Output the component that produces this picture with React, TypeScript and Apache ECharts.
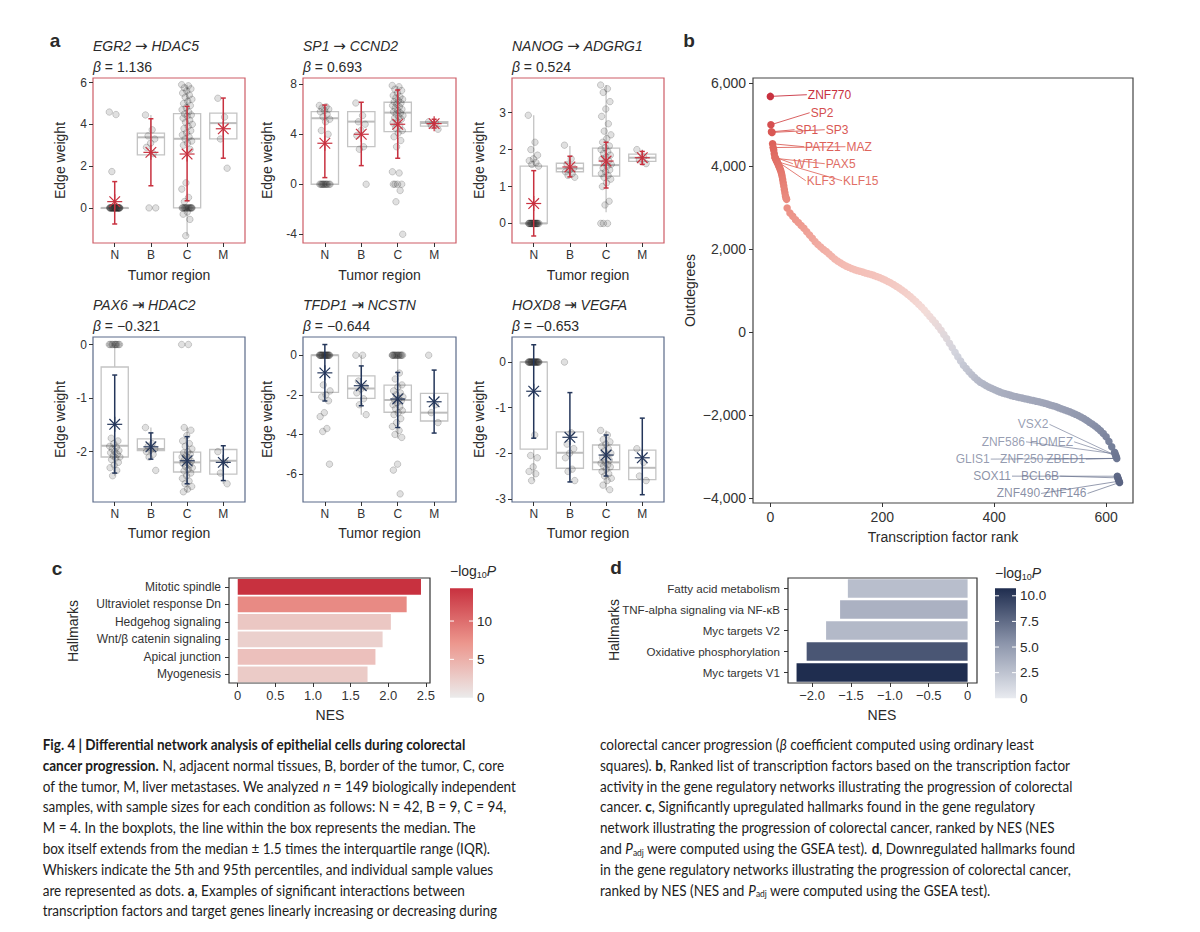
import React, { useEffect, useRef } from 'react';
import * as echarts from 'echarts';

const FONT = '"Liberation Sans", Arial, Helvetica, sans-serif';
const ARROW_FONT = '"DejaVu Sans", sans-serif';
const CAP_FONT = 'Lato';
const INK = '#2a2a2a';

// ---------------- Panel a ----------------
const regions = ['N', 'B', 'C', 'M'];
const plotGenes = [['EGR2', 'HDAC5'], ['SP1', 'CCND2'], ['NANOG', 'ADGRG1'], ['PAX6', 'HDAC2'], ['TFDP1', 'NCSTN'], ['HOXD8', 'VEGFA']];
const plotArrow = ['→', '→', '→', '⇥', '⇥', '⇥'];
const plotBeta = ['1.136', '0.693', '0.524', '−0.321', '−0.644', '−0.653'];
const plotYRange = [[-1.68, 6.22], [-4.7, 8.5], [-0.53, 3.94], [-2.94, 0.14], [-7.41, 0.92], [-3.07, 0.55]];
const plotYTicks = [[0, 2, 4, 6], [-4, 0, 4, 8], [0, 1, 2, 3], [-2, -1, 0], [-6, -4, -2, 0], [-3, -2, -1, 0]];

// box rows (N, B, C, M): [q1, median, q3, whiskerLow, whiskerHigh]
const egr2Box = [[0, 0, 0, 0, 0], [2.54, 3.38, 3.58, 2.54, 4.45], [0, 3.31, 4.51, -1.33, 5.9], [3.31, 4.06, 4.54, 3.31, 4.54]];
const sp1Box = [[0, 5.28, 5.81, 0, 6.3], [3.01, 5.01, 5.81, 3.01, 6.56], [4.21, 5.73, 6.56, 2.1, 7.86], [4.65, 4.9, 5.0, 4.5, 5.1]];
const nanogBox = [[0, 0, 1.55, 0, 2.93], [1.4, 1.49, 1.63, 1.25, 2.1], [1.28, 1.58, 2.04, 0.3, 3.75], [1.68, 1.78, 1.88, 1.6, 2.0]];
const pax6Box = [[-2.1, -1.89, -0.42, -2.45, 0], [-1.98, -1.95, -1.76, -2.0, -1.55], [-2.38, -2.2, -2.01, -2.75, -1.55], [-2.42, -2.17, -1.96, -2.6, -1.96]];
const tfdp1Box = [[-1.88, 0, 0, -2.1, 0], [-2.18, -1.68, -1.04, -3.0, 0], [-2.88, -2.26, -1.51, -4.2, 0], [-3.32, -2.9, -1.93, -3.4, -1.93]];
const hoxd8Box = [[-1.91, 0, 0, -2.6, 0], [-2.33, -1.99, -1.53, -2.6, -1.53], [-2.36, -2.2, -1.82, -2.8, -1.5], [-2.58, -2.32, -1.93, -2.6, -1.9]];

// mean with error bar rows (N, B, C, M): [mean, low, high]
const egr2Mean = [[0.3, -0.77, 1.26], [2.66, 1.06, 4.27], [2.58, 0.34, 4.86], [3.79, 2.38, 5.26]];
const sp1Mean = [[3.28, 0.53, 6.34], [4.0, 1.49, 6.56], [4.8, 2.08, 7.54], [4.85, 4.5, 5.2]];
const nanogMean = [[0.54, -0.34, 1.43], [1.53, 1.26, 1.82], [1.69, 0.96, 2.2], [1.78, 1.6, 1.95]];
const pax6Mean = [[-1.49, -2.4, -0.57], [-1.91, -2.14, -1.65], [-2.17, -2.6, -1.72], [-2.2, -2.54, -1.89]];
const tfdp1Mean = [[-0.89, -2.31, 0.54], [-1.54, -2.55, -0.54], [-2.21, -3.65, -0.87], [-2.35, -3.93, -0.75]];
const hoxd8Mean = [[-0.64, -1.67, 0.38], [-1.65, -2.63, -0.67], [-2.04, -2.5, -1.6], [-2.1, -2.91, -1.23]];

// sample values per region (N, B, C, M)
const egr2Pts = [
  [4.59, 4.47, 1.74, 0, 0, 0, 0, 0, 0, 0, 0, 0, 0, 0, 0, 0, 0, 0, 0, 0, 0, 0, 0, 0, 0, 0, 0, 0, 0, 0, 0],
  [4.45, 3.74, 3.45, 3.3, 3.1, 2.9, 2.6, 0, 0],
  [5.9, 5.85, 5.75, 5.7, 5.6, 5.5, 5.4, 5.3, 5.2, 5.1, 5.0, 4.9, 4.8, 4.7, 4.6, 4.5, 4.45, 4.4, 4.3, 4.2, 4.1, 4.0, 3.9, 3.8, 3.7, 3.6, 3.5, 3.4, 3.3, 3.2, 3.1, 3.0, 2.8, 1.2, 0.9, 0.5, 0.3, 0, 0, 0, 0, 0, 0, 0, 0, 0, 0, 0, 0, 0, 0, -0.2, -0.3, -0.55, -1.33],
  [5.25, 4.35, 3.3, 1.9],
];
const sp1Pts = [
  [6.3, 6.2, 6.1, 6.0, 5.9, 5.8, 5.6, 5.4, 5.2, 5.0, 4.3, 4.0, 0, 0, 0, 0, 0, 0, 0, 0, 0, 0, 0, 0],
  [6.5, 5.5, 5.0, 4.8, 4.3, 3.9, 3.0, 2.8, 0],
  [7.9, 7.8, 7.6, 7.5, 7.3, 7.1, 7.0, 6.9, 6.8, 6.7, 6.6, 6.5, 6.4, 6.3, 6.2, 6.1, 6.0, 5.9, 5.8, 5.7, 5.6, 5.5, 5.4, 5.3, 5.2, 5.0, 4.9, 4.7, 4.5, 4.3, 4.1, 3.8, 3.5, 3.0, 1.0, 0.9, 0, 0, 0, 0, -0.5, -1.4, -4.0],
  [5.0, 4.9, 4.7, 4.4],
];
const nanogPts = [
  [2.93, 2.2, 2.0, 1.85, 1.75, 1.7, 1.65, 1.6, 1.55, 0, 0, 0, 0, 0, 0, 0, 0, 0, 0, 0, 0, 0, 0, 0, 0, 0, 0, 0, 0],
  [2.12, 1.75, 1.6, 1.5, 1.45, 1.4, 1.35, 1.3, 1.25],
  [3.75, 3.65, 3.55, 3.3, 3.1, 2.9, 2.7, 2.5, 2.4, 2.3, 2.2, 2.1, 2.05, 2.0, 1.95, 1.9, 1.85, 1.8, 1.75, 1.7, 1.65, 1.6, 1.55, 1.5, 1.45, 1.4, 1.35, 1.3, 1.25, 1.2, 1.1, 1.0, 0.6, 0.5, 0, 0, 0],
  [2.0, 1.8, 1.72, 1.62],
];
const pax6Pts = [
  [0, 0, 0, 0, 0, 0, 0, 0, 0, 0, -1.75, -1.8, -1.85, -1.9, -1.92, -1.95, -1.98, -2.0, -2.02, -2.05, -2.08, -2.1, -2.12, -2.15, -2.2, -2.25, -2.3, -2.35, -2.45],
  [-1.55, -1.85, -1.9, -1.95, -1.97, -2.0, -2.05, -2.1, -2.35],
  [0, 0, -1.55, -1.6, -1.7, -1.8, -1.85, -1.9, -1.95, -2.0, -2.02, -2.05, -2.08, -2.1, -2.12, -2.15, -2.18, -2.2, -2.22, -2.25, -2.28, -2.3, -2.33, -2.36, -2.4, -2.45, -2.5, -2.55, -2.6, -2.65, -2.7, -2.75],
  [-2.0, -2.2, -2.4, -2.6],
];
const tfdp1Pts = [
  [0, 0, 0, 0, 0, 0, 0, 0, 0, 0, 0, 0, 0, 0, 0, 0, 0, 0, 0, 0, -1.5, -1.8, -2.0, -2.1, -2.3, -2.9, -3.1, -3.7, -3.85, -5.5],
  [0, 0, -1.3, -1.6, -1.7, -1.9, -2.2, -2.5, -3.0],
  [0, 0, 0, 0, 0, 0, 0, 0, 0, 0, 0, 0, 0, 0, -0.9, -1.2, -1.5, -1.6, -1.8, -1.9, -2.0, -2.1, -2.2, -2.25, -2.3, -2.4, -2.5, -2.6, -2.7, -2.8, -2.9, -3.0, -3.2, -3.4, -3.6, -3.8, -4.0, -4.15, -5.5, -5.8, -7.0],
  [0, -2.5, -2.9, -3.4],
];
const hoxd8Pts = [
  [0, 0, 0, 0, 0, 0, 0, 0, 0, 0, 0, 0, 0, 0, 0, 0, 0, 0, 0, 0, 0, 0, -1.6, -2.05, -2.1, -2.3, -2.4, -2.45, -2.6],
  [0, -1.55, -1.8, -1.9, -2.0, -2.1, -2.35, -2.4, -2.6],
  [-1.5, -1.6, -1.7, -1.75, -1.8, -1.85, -1.9, -1.95, -2.0, -2.05, -2.1, -2.15, -2.2, -2.22, -2.25, -2.28, -2.3, -2.35, -2.4, -2.45, -2.5, -2.55, -2.6, -2.7, -2.8],
  [-1.9, -2.2, -2.5, -2.6],
];

const plotBoxes = [egr2Box, sp1Box, nanogBox, pax6Box, tfdp1Box, hoxd8Box];
const plotMeans = [egr2Mean, sp1Mean, nanogMean, pax6Mean, tfdp1Mean, hoxd8Mean];
const plotPoints = [egr2Pts, sp1Pts, nanogPts, pax6Pts, tfdp1Pts, hoxd8Pts];

// ---------------- Panel b ----------------
// outdegree of ranks 0..29 (one per rank)
const tfTopOutdegree = [5684, 5000, 4830, 4815, 4541, 4450, 4390, 4300, 4220, 4190, 4160, 4130, 4110, 4080, 4050, 4010, 3980, 3950, 3910, 3870, 3820, 3760, 3680, 3600, 3520, 3440, 3360, 3280, 3230, 3200];
// outdegree of ranks 30, 35, ..., 615
const tfMidOutdegree = [
  2990, 2870, 2790, 2710, 2640, 2570, 2500, 2420, 2340, 2260, 2180, 2110, 2050, 1990, 1940, 1880, 1820, 1760, 1710, 1670,
  1630, 1590, 1560, 1530, 1505, 1485, 1465, 1445, 1425, 1405, 1385, 1365, 1340, 1315, 1285, 1255, 1220, 1185, 1145, 1105,
  1060, 1015, 965, 910, 855, 795, 735, 670, 600, 530, 455, 375, 295, 215, 130, 40, -60, -160, -270, -380,
  -490, -600, -700, -800, -880, -960, -1030, -1100, -1160, -1210, -1250, -1290, -1330, -1360, -1390, -1420, -1445, -1470, -1490, -1510,
  -1530, -1550, -1565, -1580, -1595, -1610, -1625, -1640, -1655, -1670, -1685, -1700, -1720, -1740, -1760, -1780, -1800, -1825, -1850, -1875,
  -1900, -1925, -1955, -1985, -2015, -2050, -2090, -2130, -2175, -2220, -2270, -2320, -2380, -2450, -2530, -2640, -2770, -2900,
];
// outdegree of ranks 616..624
const tfTailOutdegree = [-2940, -2980, -3010, -3050, -3480, -3520, -3560, -3600, -3630];

const topLabelNames = ['ZNF770', 'SP2', 'SP1', 'SP3', 'PATZ1', 'MAZ', 'WT1', 'PAX5', 'KLF3', 'KLF15'];
const topLabelPoint = [[0, 5684], [1, 5000], [2, 4830], [3, 4815], [4, 4541], [5, 4450], [8, 4220], [9, 4190], [11, 4130], [12, 4110]];
const topLabelAt = [[67, 5725], [72, 5290], [45, 4880], [99, 4880], [62, 4470], [136, 4470], [42, 4060], [99, 4060], [65, 3650], [130, 3650]];
const botLabelNames = ['VSX2', 'ZNF586', 'HOMEZ', 'GLIS1', 'ZNF250', 'ZBED1', 'SOX11', 'BCL6B', 'ZNF490', 'ZNF146'];
const botLabelPoint = [[617, -2980], [616, -2940], [617, -2980], [619, -3050], [619, -3050], [619, -3050], [620, -3480], [621, -3520], [623, -3600], [624, -3630]];
const botLabelAt = [[497, -2228], [455, -2650], [541, -2650], [392, -3067], [488, -3067], [562, -3067], [430, -3478], [516, -3478], [482, -3896], [565, -3896]];

// ---------------- Panels c, d ----------------
const cHallmarks = ['Mitotic spindle', 'Ultraviolet response Dn', 'Hedgehog signaling', 'Wnt/β catenin signaling', 'Apical junction', 'Myogenesis'];
const cNES = [2.435, 2.245, 2.035, 1.925, 1.83, 1.725];
const cLogP = [14.27, 8.0, 3.0, 2.3, 3.6, 2.7];
const cTicks = [0, 5, 10];
const dHallmarks = ['Fatty acid metabolism', 'TNF-alpha signaling via NF-κB', 'Myc targets V2', 'Oxidative phosphorylation', 'Myc targets V1'];
const dNES = [-1.54, -1.64, -1.82, -2.07, -2.2];
const dLogP = [2.8, 3.6, 3.1, 8.6, 10.73];
const dTicks = [0, 2.5, 5, 7.5, 10];

const cColors = ['#ebebeb', '#ec968d', '#c8313f'];
const dColors = ['#e9ebf0', '#8c95ab', '#1f2d4f'];
const bColors = ['#5a6482', '#7b849e', '#a6abbd', '#d2d4dd', '#f4dcd8', '#f4bdb5', '#ee9b90', '#e67e73', '#dc5f58', '#c8313f'];

// ---------------- Caption ----------------
const captionLeft = [
  '{b|Fig. 4 | Differential network analysis of epithelial cells during colorectal}',
  '{b|cancer progression.}{r| N, adjacent normal tissues, B, border of the tumor, C, core}',
  '{r|of the tumor, M, liver metastases. We analyzed }{i|n}{r| = 149 biologically independent}',
  '{r|samples, with sample sizes for each condition as follows: N = 42, B = 9, C = 94,}',
  '{r|M = 4. In the boxplots, the line within the box represents the median. The}',
  '{r|box itself extends from the median ± 1.5 times the interquartile range (IQR).}',
  '{r|Whiskers indicate the 5th and 95th percentiles, and individual sample values}',
  '{r|are represented as dots. }{b|a}{r|, Examples of significant interactions between}',
  '{r|transcription factors and target genes linearly increasing or decreasing during}',
];
const captionRight = [
  '{r|colorectal cancer progression (}{i|β}{r| coefficient computed using ordinary least}',
  '{r|squares). }{b|b}{r|, Ranked list of transcription factors based on the transcription factor}',
  '{r|activity in the gene regulatory networks illustrating the progression of colorectal}',
  '{r|cancer. }{b|c}{r|, Significantly upregulated hallmarks found in the gene regulatory}',
  '{r|network illustrating the progression of colorectal cancer, ranked by NES (NES}',
  '{r|and }{i|P}{sub|adj}{r| were computed using the GSEA test). }{b|d}{r|, Downregulated hallmarks found}',
  '{r|in the gene regulatory networks illustrating the progression of colorectal cancer,}',
  '{r|ranked by NES (NES and }{i|P}{sub|adj}{r| were computed using the GSEA test).}',
];

function richSet(size: number, color: string, family: string) {
  const base = { fontSize: size, fontFamily: family, fill: color, color, lineHeight: size + 3 };
  return {
    r: { ...base },
    i: { ...base, fontStyle: 'italic' },
    b: { ...base, fontWeight: 'bold' },
    a: { ...base, fontFamily: ARROW_FONT, fontSize: size + 1 },
    sub: { fontSize: Math.round(size * 0.64), fontFamily: family, fill: color, color, verticalAlign: 'bottom', lineHeight: Math.round(size * 0.5) },
  };
}

function txt(x: number, y: number, text: string, o: any = {}) {
  const size = o.size || 14;
  const family = o.family || FONT;
  const color = o.color || INK;
  const align = o.align || 'left';
  return {
    type: 'text',
    x,
    y,
    rotation: o.rotation || 0,
    silent: true,
    style: {
      text,
      rich: richSet(size, color, family),
      fontSize: size,
      fontFamily: family,
      fontWeight: o.weight || 'normal',
      fill: color,
      align,
      textAlign: align,
      verticalAlign: 'middle',
      textVerticalAlign: 'middle',
    },
  };
}

function buildOption(capScale: number) {
  const aLefts = [93, 303, 512];
  const aWidths = [152, 153, 152];
  const aTops = [78, 337];
  const aH = 165;
  const frameCol = ['#cd5c66', '#5b6a89'];
  const statCol = ['#c8313f', '#24365a'];

  const grid: any[] = [];
  const xAxis: any[] = [];
  const yAxis: any[] = [];
  const series: any[] = [];
  const graphic: any[] = [];

  const tickStyle = { color: '#333', width: 1 };
  const noLine = { show: false, onZero: false };

  for (let k = 0; k < 6; k++) {
    const row = k < 3 ? 0 : 1;
    const col = k % 3;
    const left = aLefts[col];
    const top = aTops[row];
    grid.push({ left, top, width: aWidths[col], height: aH, show: true, borderColor: frameCol[row], borderWidth: 1.2, backgroundColor: 'transparent' });
    xAxis.push({
      gridIndex: k, type: 'value', min: 0.4, max: 4.6,
      axisLine: noLine, splitLine: { show: false },
      axisTick: { show: true, length: 4, lineStyle: tickStyle, customValues: [1, 2, 3, 4] },
      axisLabel: { customValues: [1, 2, 3, 4], formatter: (v: number) => regions[Math.round(v) - 1], color: '#333', fontSize: 12, fontFamily: FONT, margin: 6 },
    });
    yAxis.push({
      gridIndex: k, type: 'value', min: plotYRange[k][0], max: plotYRange[k][1],
      axisLine: noLine, splitLine: { show: false },
      axisTick: { show: true, length: 4, lineStyle: tickStyle, customValues: plotYTicks[k] },
      axisLabel: { customValues: plotYTicks[k], color: '#333', fontSize: 12, fontFamily: FONT, margin: 6 },
    });

    const boxData = plotBoxes[k].map((b, i) => [i + 1, ...b]);
    series.push({
      type: 'custom', xAxisIndex: k, yAxisIndex: k, silent: true, z: 1,
      data: boxData,
      renderItem: (params: any, api: any) => {
        const x = api.value(0);
        const q1 = api.value(1), med = api.value(2), q3 = api.value(3), wlo = api.value(4), whi = api.value(5);
        const tl = api.coord([x - 0.375, q3]);
        const br = api.coord([x + 0.375, q1]);
        const pm = api.coord([x, med]);
        const pw1 = api.coord([x, wlo]);
        const pw2 = api.coord([x, whi]);
        const st = { stroke: '#c4c4c4', fill: 'none', lineWidth: 1.3 };
        return {
          type: 'group',
          children: [
            { type: 'line', shape: { x1: pm[0], y1: br[1], x2: pm[0], y2: pw1[1] }, style: st },
            { type: 'line', shape: { x1: pm[0], y1: tl[1], x2: pm[0], y2: pw2[1] }, style: st },
            { type: 'rect', shape: { x: tl[0], y: tl[1], width: br[0] - tl[0], height: Math.max(0.5, br[1] - tl[1]) }, style: st },
            { type: 'line', shape: { x1: tl[0], y1: pm[1], x2: br[0], y2: pm[1] }, style: { stroke: '#bdbdbd', lineWidth: 2 } },
          ],
        };
      },
    });

    const pts: number[][] = [];
    plotPoints[k].forEach((vals, g) => {
      vals.forEach((v, i) => {
        const jit = (((i * 0.6180339887) % 1) - 0.5) * 0.3;
        pts.push([g + 1 + jit, v]);
      });
    });
    series.push({
      type: 'scatter', xAxisIndex: k, yAxisIndex: k, silent: true, z: 2,
      symbol: 'circle', symbolSize: 6.5, data: pts,
      itemStyle: { color: 'rgba(60,60,60,0.2)', borderColor: 'rgba(20,20,20,0.34)', borderWidth: 0.7 },
    });

    const meanData = plotMeans[k].map((m, i) => [i + 1, ...m]);
    const sc = statCol[row];
    series.push({
      type: 'custom', xAxisIndex: k, yAxisIndex: k, silent: true, z: 3,
      data: meanData,
      renderItem: (params: any, api: any) => {
        const x = api.value(0);
        const pm = api.coord([x, api.value(1)]);
        const plo = api.coord([x, api.value(2)]);
        const phi = api.coord([x, api.value(3)]);
        const s = { stroke: sc, lineWidth: 1.5 };
        const a = 7.5, d = 5.3, cap = 2.5;
        return {
          type: 'group',
          children: [
            { type: 'line', shape: { x1: plo[0], y1: plo[1], x2: phi[0], y2: phi[1] }, style: s },
            { type: 'line', shape: { x1: plo[0] - cap, y1: plo[1], x2: plo[0] + cap, y2: plo[1] }, style: s },
            { type: 'line', shape: { x1: phi[0] - cap, y1: phi[1], x2: phi[0] + cap, y2: phi[1] }, style: s },
            { type: 'line', shape: { x1: pm[0] - a, y1: pm[1], x2: pm[0] + a, y2: pm[1] }, style: { stroke: sc, lineWidth: 1.2 } },
            { type: 'line', shape: { x1: pm[0], y1: pm[1] - a, x2: pm[0], y2: pm[1] + a }, style: { stroke: sc, lineWidth: 1.2 } },
            { type: 'line', shape: { x1: pm[0] - d, y1: pm[1] - d, x2: pm[0] + d, y2: pm[1] + d }, style: { stroke: sc, lineWidth: 1.2 } },
            { type: 'line', shape: { x1: pm[0] - d, y1: pm[1] + d, x2: pm[0] + d, y2: pm[1] - d }, style: { stroke: sc, lineWidth: 1.2 } },
          ],
        };
      },
    });

    // texts for the small multiple
    const titleY = row === 0 ? 45.5 : 304.5;
    const betaY = row === 0 ? 66.5 : 325.5;
    graphic.push(txt(left, titleY, `{i|${plotGenes[k][0]}}{r| }{a|${plotArrow[k]}}{r| }{i|${plotGenes[k][1]}}`, { size: 14 }));
    graphic.push(txt(left, betaY, `{i|β}{r| = ${plotBeta[k]}}`, { size: 14 }));
    const ewX = [60, 267, 479][col];
    graphic.push(txt(ewX, top + aH / 2, 'Edge weight', { size: 14, align: 'center', rotation: Math.PI / 2 }));
    graphic.push(txt(left + aWidths[col] / 2, row === 0 ? 275 : 533, 'Tumor region', { size: 14, align: 'center' }));
  }

  // ---------- panel b ----------
  const gB = 6;
  grid.push({ left: 753, top: 78, width: 380, height: 425, show: true, borderColor: '#444', borderWidth: 1.2, backgroundColor: 'transparent' });
  xAxis.push({
    gridIndex: gB, type: 'value', min: -31, max: 648,
    axisLine: noLine, splitLine: { show: false },
    axisTick: { show: true, length: 4, lineStyle: tickStyle, customValues: [0, 200, 400, 600] },
    axisLabel: { customValues: [0, 200, 400, 600], color: '#333', fontSize: 14, fontFamily: FONT, margin: 7 },
  });
  yAxis.push({
    gridIndex: gB, type: 'value', min: -4126, max: 6128,
    axisLine: noLine, splitLine: { show: false },
    axisTick: { show: true, length: 4, lineStyle: tickStyle, customValues: [-4000, -2000, 0, 2000, 4000, 6000] },
    axisLabel: { customValues: [-4000, -2000, 0, 2000, 4000, 6000], formatter: (v: number) => (v < 0 ? '−' : '') + Math.abs(v).toLocaleString('en-US'), color: '#333', fontSize: 14, fontFamily: FONT, margin: 7 },
  });
  const bData: number[][] = [];
  tfTopOutdegree.forEach((v, i) => bData.push([i, v]));
  tfMidOutdegree.forEach((v, i) => bData.push([30 + i * 5, v]));
  tfTailOutdegree.forEach((v, i) => bData.push([616 + i, v]));
  const idxB = series.length;
  series.push({
    type: 'scatter', xAxisIndex: gB, yAxisIndex: gB, silent: true, z: 3,
    symbol: 'circle', symbolSize: 7.5, data: bData,
    itemStyle: { opacity: 1 },
  });
  const labelSeries = (names: string[], pts: number[][], at: number[][], isTop: boolean) => ({
    type: 'custom', xAxisIndex: gB, yAxisIndex: gB, silent: true, z: 2,
    data: pts.map((p, i) => [p[0], p[1], at[i][0], at[i][1], i]),
    renderItem: (params: any, api: any) => {
      const p = api.coord([api.value(0), api.value(1)]);
      const l = api.coord([api.value(2), api.value(3)]);
      const name = names[api.value(4)];
      const color = api.visual('color');
      const op = isTop ? 1 : 0.72;
      const lx = isTop ? l[0] - 1 : l[0] + 1;
      return {
        type: 'group',
        children: [
          { type: 'line', shape: { x1: p[0], y1: p[1], x2: lx, y2: l[1] }, style: { stroke: color, lineWidth: 0.9, opacity: op } },
          {
            type: 'text', x: l[0], y: l[1],
            style: { text: name, fill: color, opacity: op, fontSize: 12, fontFamily: FONT, align: isTop ? 'left' : 'right', textAlign: isTop ? 'left' : 'right', verticalAlign: 'middle', textVerticalAlign: 'middle' },
          },
        ],
      };
    },
  });
  const idxTopL = series.length;
  series.push(labelSeries(topLabelNames, topLabelPoint, topLabelAt, true));
  const idxBotL = series.length;
  series.push(labelSeries(botLabelNames, botLabelPoint, botLabelAt, false));
  graphic.push(txt(690, 290.5, 'Outdegrees', { size: 14, align: 'center', rotation: Math.PI / 2 }));
  graphic.push(txt(943, 537, 'Transcription factor rank', { size: 14, align: 'center' }));

  // ---------- panel c ----------
  const gC = 7;
  grid.push({ left: 229, top: 578, width: 201, height: 105, show: true, borderColor: '#333', borderWidth: 1.2, backgroundColor: 'transparent' });
  xAxis.push({
    gridIndex: gC, type: 'value', min: -0.116, max: 2.555,
    axisLine: noLine, splitLine: { show: false },
    axisTick: { show: true, length: 4, lineStyle: tickStyle, customValues: [0, 0.5, 1, 1.5, 2, 2.5] },
    axisLabel: { customValues: [0, 0.5, 1, 1.5, 2, 2.5], formatter: (v: number) => (v === 0 ? '0' : v.toFixed(1)), color: '#333', fontSize: 13, fontFamily: FONT, margin: 6 },
  });
  yAxis.push({
    gridIndex: gC, type: 'category', data: cHallmarks, inverse: true,
    axisLine: noLine, splitLine: { show: false },
    axisTick: { show: true, length: 4, alignWithLabel: true, lineStyle: tickStyle },
    axisLabel: { color: '#333', fontSize: 12, fontFamily: FONT, margin: 8 },
  });
  const idxC = series.length;
  series.push({
    type: 'bar', xAxisIndex: gC, yAxisIndex: gC, silent: true, barCategoryGap: '10%',
    encode: { x: 0, y: 1 },
    data: cNES.map((v, i) => [v, i, cLogP[i]]),
  });

  // ---------- panel d ----------
  const gD = 8;
  grid.push({ left: 788, top: 578, width: 189, height: 105, show: true, borderColor: '#333', borderWidth: 1.2, backgroundColor: 'transparent' });
  xAxis.push({
    gridIndex: gD, type: 'value', min: -2.31, max: 0.121,
    axisLine: noLine, splitLine: { show: false },
    axisTick: { show: true, length: 4, lineStyle: tickStyle, customValues: [-2, -1.5, -1, -0.5, 0] },
    axisLabel: { customValues: [-2, -1.5, -1, -0.5, 0], formatter: (v: number) => (v === 0 ? '0' : '−' + Math.abs(v).toFixed(1)), color: '#333', fontSize: 13, fontFamily: FONT, margin: 6 },
  });
  yAxis.push({
    gridIndex: gD, type: 'category', data: dHallmarks, inverse: true,
    axisLine: noLine, splitLine: { show: false },
    axisTick: { show: true, length: 4, alignWithLabel: true, lineStyle: tickStyle },
    axisLabel: { color: '#333', fontSize: 11.6, fontFamily: FONT, margin: 8 },
  });
  const idxD = series.length;
  series.push({
    type: 'bar', xAxisIndex: gD, yAxisIndex: gD, silent: true, barCategoryGap: '12%',
    encode: { x: 0, y: 1 },
    data: dNES.map((v, i) => [v, i, dLogP[i]]),
  });

  // axis names c, d
  graphic.push(txt(73, 631, 'Hallmarks', { size: 14, align: 'center', rotation: Math.PI / 2 }));
  graphic.push(txt(330, 715, 'NES', { size: 14, align: 'center' }));
  graphic.push(txt(614, 630, 'Hallmarks', { size: 14, align: 'center', rotation: Math.PI / 2 }));
  graphic.push(txt(882, 715, 'NES', { size: 14, align: 'center' }));

  // colour bars
  const colorbar = (x: number, y: number, w: number, h: number, max: number, colors: string[], ticks: number[], fmt: (v: number) => string, titleY: number) => {
    graphic.push({
      type: 'rect', silent: true, shape: { x, y, width: w, height: h },
      style: {
        fill: new echarts.graphic.LinearGradient(0, 1, 0, 0, colors.map((c, i) => ({ offset: i / (colors.length - 1), color: c }))),
      },
    });
    ticks.forEach((t) => {
      const ty = y + h - (t / max) * h;
      if (t > 0) {
        graphic.push({ type: 'line', silent: true, shape: { x1: x, y1: ty, x2: x + 4, y2: ty }, style: { stroke: '#fff', lineWidth: 1 } });
        graphic.push({ type: 'line', silent: true, shape: { x1: x + w - 4, y1: ty, x2: x + w, y2: ty }, style: { stroke: '#fff', lineWidth: 1 } });
      }
      graphic.push(txt(x + w + 4, ty, fmt(t), { size: 13.5 }));
    });
    graphic.push(txt(x, titleY, '{r|−log}{sub|10}{i|P}', { size: 14 }));
  };
  colorbar(450, 588.3, 23, 109.4, 14.27, cColors, cTicks, (v) => String(v), 571);
  colorbar(995, 588.3, 21, 110, 10.73, dColors, dTicks, (v) => (v === 0 ? '0' : v.toFixed(1)), 573);

  // panel letters
  const letters = [['a', 55, 40.5], ['b', 689, 40], ['c', 57, 568], ['d', 616, 567]];
  letters.forEach(([l, x, y]) => {
    graphic.push(txt(x as number, y as number, `{b|${l}}`, { size: 19, align: 'center' }));
  });

  // caption
  const capLine = (lines: string[], x0: number) => ({
    type: 'group', x: x0, y: 0, scaleX: capScale, silent: true,
    children: lines.map((t, i) => txt(0, 743.5 + i * 20.8, t, { size: 16, family: CAP_FONT, color: '#1c1c1c' })),
  });
  graphic.push(capLine(captionLeft, 42.7));
  graphic.push(capLine(captionRight, 600));

  return {
    animation: false,
    backgroundColor: '#ffffff',
    textStyle: { fontFamily: FONT },
    grid,
    xAxis,
    yAxis,
    series,
    visualMap: [
      { type: 'continuous', show: false, seriesIndex: [idxB, idxTopL, idxBotL], dimension: 1, min: -3630, max: 5684, inRange: { color: bColors } },
      { type: 'continuous', show: false, seriesIndex: idxC, dimension: 2, min: 0, max: 14.27, inRange: { color: cColors } },
      { type: 'continuous', show: false, seriesIndex: idxD, dimension: 2, min: 0, max: 10.73, inRange: { color: dColors } },
    ],
    graphic: { elements: graphic },
  };
}

export default function App() {
  const ref = useRef<HTMLDivElement>(null);
  useEffect(() => {
    if (!ref.current) return;
    let scale = 0.85;
    try {
      const ctx = document.createElement('canvas').getContext('2d');
      if (ctx) {
        ctx.font = `16px ${CAP_FONT}`;
        const w = ctx.measureText('colorectal cancer progression (β coefficient computed using ordinary least').width;
        if (w > 0) scale = Math.min(1, 435 / w);
      }
    } catch (e) {
      // keep default
    }
    const chart = echarts.init(ref.current, null, { renderer: 'svg' });
    chart.setOption(buildOption(scale) as any);
    return () => chart.dispose();
  }, []);
  return <div ref={ref} style={{ position: 'absolute', left: 0, top: 0, width: 1200, height: 932, background: '#fff' }} />;
}
